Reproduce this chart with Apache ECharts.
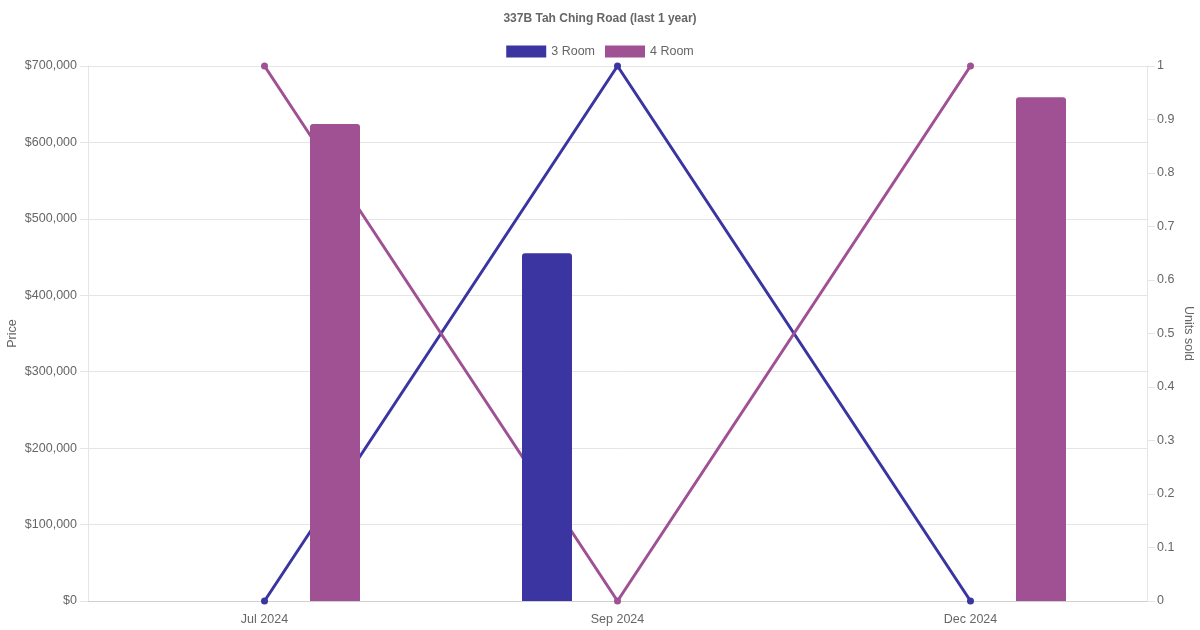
<!DOCTYPE html>
<html>
<head>
<meta charset="utf-8">
<script src="https://cdn.jsdelivr.net/npm/echarts@6/dist/echarts.min.js"></script>
<style>
  html, body { margin: 0; padding: 0; background: #fff; }
  #chart { width: 1200px; height: 630px; }
</style>
</head>
<body>
<div id="chart"></div>
<script>
let $ = a => document.querySelector(a)

// 数据
const months = ['Jul 2024', 'Sep 2024', 'Dec 2024']
const price3Room = [null, 455000, null]
const price4Room = [624000, null, 659000]
const units3Room = [0, 1, 0]
const units4Room = [1, 0, 1]

const blue = '#3a35a0'
const purple = '#9f5193'
const textColor = '#666'
const gridColor = '#e5e5e5'

echarts.init($('#chart')).setOption({
    animation: false,
    textStyle: { fontFamily: '"Liberation Sans", Arial, sans-serif' },
    title: {
        text: '337B Tah Ching Road (last 1 year)',
        left: 'center',
        top: 8,
        textStyle: { fontSize: 12, fontWeight: 'bold', color: textColor }
    },
    legend: {
        top: 40,
        left: 'center',
        itemWidth: 40,
        itemHeight: 12,
        itemGap: 10,
        icon: 'rect',
        textStyle: { fontSize: 12.5, color: textColor },
        data: ['3 Room', '4 Room']
    },
    grid: { left: 88, right: 53, top: 66, bottom: 29, containLabel: false, outerBoundsMode: 'none' },
    xAxis: {
        type: 'category',
        data: months,
        axisLine: { lineStyle: { color: '#d0d0d0' } },
        axisTick: { show: false },
        axisLabel: { color: textColor, fontSize: 12.5, margin: 12 },
        splitLine: { show: false }
    },
    yAxis: [
        {
            type: 'value',
            name: 'Price',
            nameLocation: 'middle',
            nameGap: 69,
            nameMoveOverlap: false,
            nameTextStyle: { color: textColor, fontSize: 12.5 },
            min: 0,
            max: 700000,
            interval: 100000,
            axisLine: { show: true, lineStyle: { color: gridColor } },
            axisTick: { show: true, length: 8, lineStyle: { color: gridColor } },
            axisLabel: {
                color: textColor, fontSize: 12.5, margin: 11,
                formatter: v => '$' + v.toLocaleString('en-US')
            },
            splitLine: { lineStyle: { color: gridColor } }
        },
        {
            type: 'value',
            name: 'Units sold',
            nameLocation: 'middle',
            nameRotate: -90,
            nameGap: 35,
            nameMoveOverlap: false,
            nameTextStyle: { color: textColor, fontSize: 12.5 },
            min: 0,
            max: 1,
            interval: 0.1,
            position: 'right',
            axisLine: { show: true, lineStyle: { color: gridColor } },
            axisTick: { show: true, length: 8, lineStyle: { color: gridColor } },
            axisLabel: { color: textColor, fontSize: 12.5, margin: 10 },
            splitLine: { show: false }
        }
    ],
    series: [
        {
            name: '3 Room',
            type: 'bar',
            yAxisIndex: 0,
            data: price3Room,
            barWidth: 50,
            barGap: '182%',
            z: 3,
            itemStyle: { color: blue, borderRadius: [3, 3, 0, 0] }
        },
        {
            name: '4 Room',
            type: 'bar',
            yAxisIndex: 0,
            data: price4Room,
            barWidth: 50,
            barGap: '182%',
            z: 3,
            itemStyle: { color: purple, borderRadius: [3, 3, 0, 0] }
        },
        {
            name: '3 Room',
            type: 'line',
            yAxisIndex: 1,
            data: units3Room,
            symbol: 'circle',
            symbolSize: 7,
            z: 2,
            lineStyle: { color: blue, width: 3 },
            itemStyle: { color: blue }
        },
        {
            name: '4 Room',
            type: 'line',
            yAxisIndex: 1,
            data: units4Room,
            symbol: 'circle',
            symbolSize: 7,
            z: 2,
            lineStyle: { color: purple, width: 3 },
            itemStyle: { color: purple }
        }
    ]
})
</script>
</body>
</html>
